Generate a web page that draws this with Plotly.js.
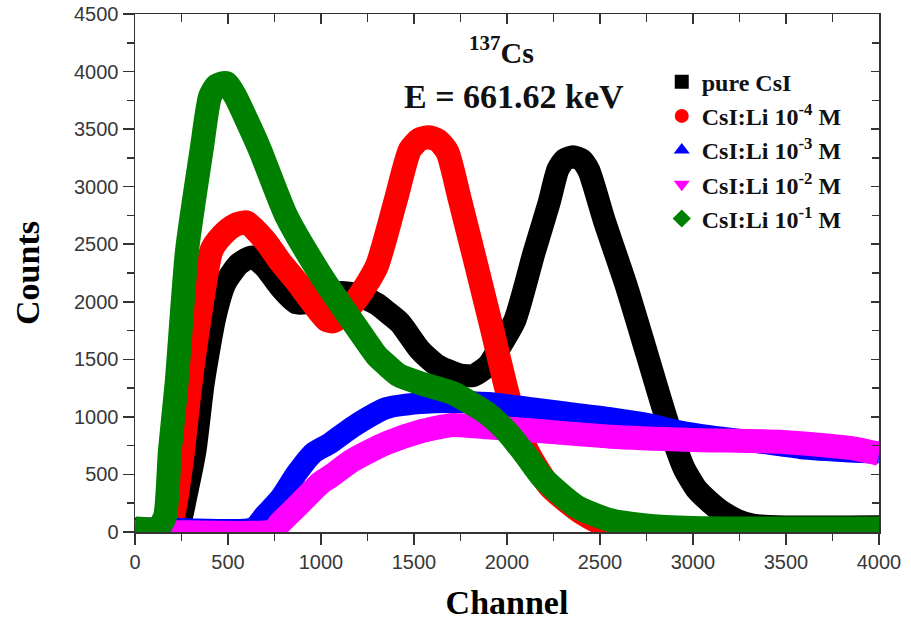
<!DOCTYPE html>
<html>
<head>
<meta charset="utf-8">
<script src="https://cdn.plot.ly/plotly-3.0.1.min.js"></script>
<style>html,body{margin:0;padding:0;background:#fff;}#chart{width:911px;height:624px;}</style>
</head>
<body>
<div id="chart"></div>
<script>
// ---- data ----
const seriesNames = ['pure CsI', 'CsI:Li 10<sup>-4</sup> M', 'CsI:Li 10<sup>-3</sup> M', 'CsI:Li 10<sup>-2</sup> M', 'CsI:Li 10<sup>-1</sup> M'];

const chPure = [0, 200, 240, 272, 323, 367, 430, 484, 560, 630, 700, 780, 869, 1000, 1100, 1200, 1300, 1353, 1426, 1532, 1622, 1747, 1820, 1900, 1962, 2043, 2145, 2226, 2274, 2310, 2355, 2400, 2440, 2522, 2643, 2751, 2859, 2950, 3020, 3090, 3160, 3240, 3320, 3450, 4000];
const countsPure = [20, 20, 80, 300, 712, 1295, 1870, 2160, 2330, 2390, 2300, 2130, 1990, 2020, 2080, 2060, 1980, 1914, 1815, 1580, 1450, 1364, 1360, 1450, 1610, 1842, 2424, 2858, 3150, 3235, 3260, 3235, 3140, 2711, 2131, 1553, 973, 560, 370, 260, 170, 100, 60, 45, 45];

const chLi4 = [0, 180, 204, 250, 299, 349, 412, 470, 530, 600, 700, 780, 869, 950, 1030, 1066, 1110, 1200, 1299, 1402, 1478, 1530, 1580, 1630, 1680, 1747, 1837, 1925, 1989, 2043, 2115, 2231, 2403, 2554, 2700, 4000];
const countsLi4 = [20, 20, 130, 600, 1295, 1870, 2450, 2580, 2660, 2690, 2530, 2350, 2175, 2000, 1842, 1830, 1880, 2040, 2305, 2884, 3320, 3410, 3430, 3400, 3300, 2884, 2305, 1727, 1293, 973, 686, 392, 165, 40, 20, 20];

const chLi3 = [0, 150, 634, 700, 780, 869, 958, 1048, 1172, 1353, 1532, 1700, 1900, 2106, 2300, 2554, 2750, 2912, 3100, 3306, 3575, 3844, 4000];
const countsLi3 = [30, 30, 35, 150, 290, 510, 686, 770, 915, 1077, 1120, 1130, 1120, 1080, 1040, 990, 940, 880, 830, 790, 730, 700, 690];

const chLi2 = [0, 170, 742, 780, 869, 958, 1000, 1048, 1172, 1353, 1532, 1710, 1891, 2106, 2554, 3000, 3485, 3844, 4000];
const countsLi2 = [0, 0, 10, 78, 220, 365, 430, 480, 625, 773, 872, 930, 910, 886, 828, 800, 782, 730, 680];

const chLi1 = [0, 120, 161, 188, 224, 280, 358, 403, 440, 490, 538, 600, 672, 815, 1000, 1100, 1213, 1300, 1353, 1420, 1532, 1710, 1891, 2000, 2100, 2194, 2375, 2554, 2733, 3000, 4000];
const countsLi1 = [30, 30, 133, 712, 1295, 2450, 3320, 3780, 3880, 3900, 3790, 3580, 3320, 2740, 2230, 1990, 1727, 1530, 1450, 1360, 1293, 1205, 1032, 870, 670, 467, 220, 104, 60, 35, 30];

const xTickVals = [0, 500, 1000, 1500, 2000, 2500, 3000, 3500, 4000];
const yTickVals = [0, 500, 1000, 1500, 2000, 2500, 3000, 3500, 4000, 4500];

// ---- styling ----
const colors = ['#000000', '#ff0000', '#0000ff', '#ff00ff', '#008000'];
const symbols = ['square', 'circle', 'triangle-up', 'triangle-down', 'diamond'];
const xs = [chPure, chLi4, chLi3, chLi2, chLi1];
const ys = [countsPure, countsLi4, countsLi3, countsLi2, countsLi1];
const widths = [23, 24, 22, 24, 24];

const traces = [];
for (let i = 0; i < 5; i++) {
  traces.push({
    x: xs[i], y: ys[i], type: 'scatter', mode: 'lines',
    line: {color: colors[i], width: widths[i], shape: 'spline', smoothing: 0.6},
    showlegend: false, hoverinfo: 'skip'
  });
}
for (let i = 0; i < 5; i++) {
  traces.push({
    x: [null], y: [null], type: 'scatter', mode: 'markers',
    xaxis: 'x2', yaxis: 'y2',
    name: '<b>' + seriesNames[i] + '</b>',
    marker: {color: colors[i], symbol: symbols[i], size: 14}
  });
}

const tickFont = {family: 'Liberation Sans, Arial, sans-serif', size: 20, color: '#383838'};
const titleFont = {family: 'Liberation Serif, Times New Roman, serif', size: 34, color: '#000'};
const lineCol = '#333';

const layout = {
  width: 911, height: 624,
  margin: {l: 135, r: 32, t: 14, b: 92},
  paper_bgcolor: '#fff', plot_bgcolor: '#fff',
  showlegend: true,
  legend: {
    x: 0.708, y: 0.912, xanchor: 'left', yanchor: 'top',
    bgcolor: 'rgba(0,0,0,0)', borderwidth: 0,
    font: {family: 'Liberation Serif, Times New Roman, serif', size: 24, color: '#111'},
    itemwidth: 30, tracegroupgap: 0
  },
  xaxis: {
    range: [0, 4000], tickvals: xTickVals, ticks: 'outside', ticklen: 11, tickwidth: 1.5, tickcolor: lineCol,
    minor: {dtick: 250, tick0: 0, ticks: 'outside', ticklen: 7, tickwidth: 1.5, tickcolor: lineCol},
    showline: true, linecolor: lineCol, linewidth: 1.5, showgrid: false, zeroline: false,
    tickfont: tickFont,
    title: {text: '<b>Channel</b>', font: titleFont, standoff: 18}
  },
  yaxis: {
    range: [0, 4500], tickvals: yTickVals, ticks: 'outside', ticklen: 11, tickwidth: 1.5, tickcolor: lineCol,
    minor: {dtick: 250, tick0: 0, ticks: 'outside', ticklen: 7, tickwidth: 1.5, tickcolor: lineCol},
    showline: true, linecolor: lineCol, linewidth: 1.5, showgrid: false, zeroline: false,
    tickfont: tickFont,
    title: {text: '<b>Counts</b>', font: titleFont, standoff: 24}
  },
  xaxis2: {
    overlaying: 'x', side: 'top', range: [0, 4000], tickvals: xTickVals, ticks: 'inside', ticklen: 10, tickwidth: 1.5, tickcolor: lineCol,
    minor: {dtick: 250, tick0: 0, ticks: 'inside', ticklen: 8, tickwidth: 1.5, tickcolor: lineCol},
    showticklabels: false, showline: true, linecolor: lineCol, linewidth: 1.5, showgrid: false, zeroline: false
  },
  yaxis2: {
    overlaying: 'y', side: 'right', range: [0, 4500], tickvals: yTickVals, ticks: 'inside', ticklen: 8, tickwidth: 1.5, tickcolor: lineCol,
    minor: {dtick: 250, tick0: 0, ticks: 'inside', ticklen: 7, tickwidth: 1.5, tickcolor: lineCol},
    showticklabels: false, showline: true, linecolor: lineCol, linewidth: 1.5, showgrid: false, zeroline: false
  },
  annotations: [
    {xref: 'paper', yref: 'paper', x: 0.493, y: 0.93, xanchor: 'center', yanchor: 'middle', showarrow: false,
     text: '<b><sup>137</sup>Cs</b>', font: {family: 'Liberation Serif, Times New Roman, serif', size: 30, color: '#111'}},
    {xref: 'paper', yref: 'paper', x: 0.51, y: 0.84, xanchor: 'center', yanchor: 'middle', showarrow: false,
     text: '<b>E = 661.62 keV</b>', font: {family: 'Liberation Serif, Times New Roman, serif', size: 34, color: '#111'}}
  ]
};

Plotly.newPlot('chart', traces, layout, {displayModeBar: false, staticPlot: true});
</script>
</body>
</html>
